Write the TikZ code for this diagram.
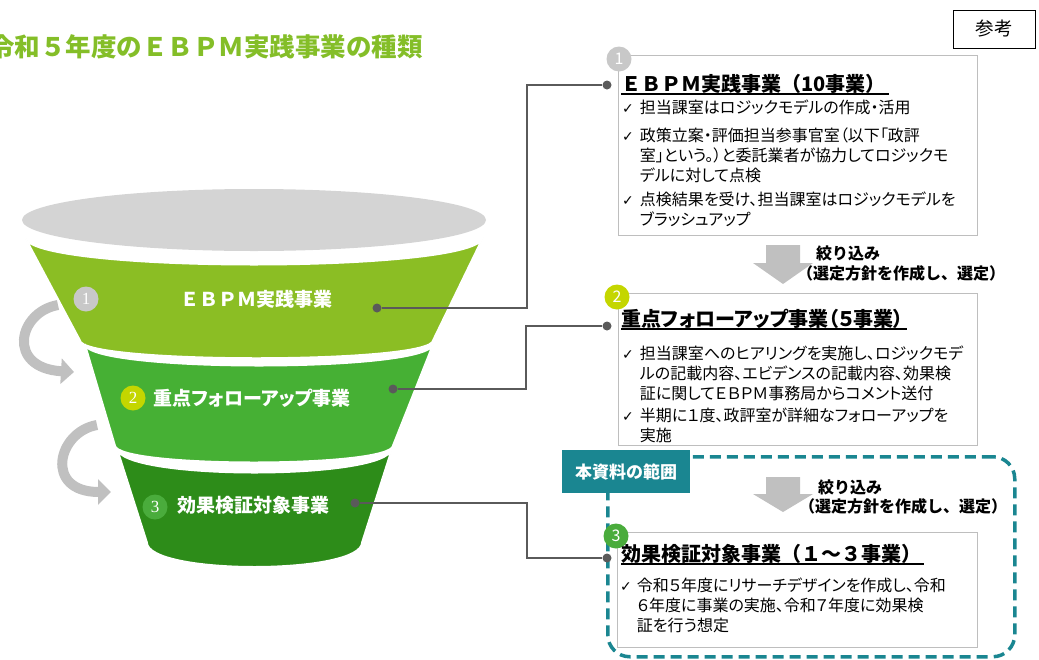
\documentclass[tikz,border=0pt]{standalone}
\usepackage{fontspec}
\setmainfont{Noto Sans CJK JP}
\newfontfamily\jpprop{Noto Sans CJK JP}[RawFeature=+palt]
\newfontfamily\chkfont{DejaVu Sans}
\newfontfamily\bandnumfont{Liberation Serif}
\usetikzlibrary{arrows.meta}

\definecolor{titlegreen}{RGB}{132,190,40}
\definecolor{bandA}{RGB}{139,190,36}
\definecolor{bandB}{RGB}{70,176,52}
\definecolor{bandC}{RGB}{45,140,25}
\definecolor{discgray}{RGB}{200,200,200}
\definecolor{discyellow}{RGB}{196,214,0}
\definecolor{discgreen}{RGB}{74,172,60}
\definecolor{rimgray}{RGB}{212,212,212}
\definecolor{linegray}{RGB}{90,90,90}
\definecolor{panelgray}{RGB}{190,190,190}
\definecolor{arrowgray}{RGB}{192,192,192}
\definecolor{rangeteal}{RGB}{26,134,145}

\newcommand{\chk}{{\chkfont\fontsize{14}{14}\selectfont ✓}}

\begin{document}
\begin{tikzpicture}[x=1pt, y=-1pt,
  band/.style={draw=white, line width=1.5pt},
  bandlabel/.style={text=white, inner sep=0, font=\bfseries\fontsize{19}{19}\selectfont},
  numdisc/.style={circle, minimum size=25pt, inner sep=0, text=white, font=\bandnumfont\fontsize{17}{17}\selectfont},
  boxdisc/.style={circle, minimum size=25pt, inner sep=0, text=white, font=\fontsize{16}{16}\selectfont},
  conn/.style={draw=linegray, line width=2.5pt},
  dot/.style={circle, fill=linegray, minimum size=9pt, inner sep=0},
  panel/.style={draw=panelgray, line width=1pt, anchor=north west, inner sep=0},
  paneltitle/.style={anchor=base west, inner sep=0, font=\bfseries\fontsize{20}{20}\selectfont},
  uline/.style={line width=1.2pt},
  itemlist/.style={anchor=north west, inner sep=0, font=\jpprop\fontsize{16}{20}\selectfont},
  narrow/.style={fill=arrowgray},
  narrowtext/.style={anchor=west, inner sep=0, font=\bfseries\fontsize{16}{16}\selectfont},
  turn/.style={draw=arrowgray, line width=10pt, -{Triangle[length=13pt, width=25pt]}},
  rangebox/.style={draw=rangeteal, line width=3.5pt, dash pattern=on 11pt off 6pt, rounded corners=22pt, anchor=north west, inner sep=0},
  rangetag/.style={fill=rangeteal, text=white, anchor=north west, inner sep=0, minimum width=128pt, minimum height=43pt, font=\bfseries\fontsize{17}{17}\selectfont},
]
\useasboundingbox (0,0) rectangle (1039,659);

% title and reference tag
\node[anchor=west, inner sep=0, text=titlegreen, font=\bfseries\fontsize{25.5}{25.5}\selectfont] (title) at (-11,47) {令和５年度のＥＢＰＭ実践事業の種類};
\node[draw, line width=1pt, minimum width=82pt, minimum height=38pt, font=\fontsize{18.5}{18.5}\selectfont] (reftag) at (994,29) {参考};

% turning arrows
\draw[turn] (58,305) .. controls (18,312) and (6,368) .. (74,372);
\draw[turn] (97,425) .. controls (57,432) and (44,492) .. (111,492);

% funnel
\fill[rimgray] (254,220) ellipse[x radius=232, y radius=31];
\path[band, fill=bandA] (25,237) .. controls (25,274) and (483,274) .. (483,237) -- (433,340) .. controls (433,364) and (80,364) .. (80,340) -- cycle;
\path[band, fill=bandB] (85,344) .. controls (85,373) and (433,373) .. (433,344) -- (393,445) .. controls (393,468) and (115,468) .. (115,445) -- cycle;
\path[band, fill=bandC] (117,448) .. controls (117,481) and (392,481) .. (392,448) -- (362,542) .. controls (362,575) and (147,575) .. (147,542) -- cycle;

\node[numdisc, fill=discgray] (n1) at (86,299) {1};
\node[bandlabel] (f1) at (256,299) {ＥＢＰＭ実践事業};
\node[numdisc, fill=discyellow] (n2) at (133,398) {2};
\node[bandlabel, font=\jpprop\bfseries\fontsize{19}{19}\selectfont] (f2) at (252,398) {重点フォローアップ事業};
\node[numdisc, fill=discgreen] (n3) at (155,507) {3};
\node[bandlabel] (f3) at (253,505) {効果検証対象事業};

% scope of this document
\node[rangebox, minimum width=407pt, minimum height=200pt] (range) at (606,455) {};
\node[rangetag] (tag) at (562,450) {本資料の範囲};

% panel 1
\node[panel, minimum width=359pt, minimum height=180pt] (box1) at (618,55) {};
\node[boxdisc, fill=discgray] (c1) at (619,59) {1};
\node[paneltitle] (t1) at (621,91) {ＥＢＰＭ実践事業（10事業）};
\draw[uline] ([yshift=-3pt]t1.base west) -- ([xshift=3pt, yshift=-3pt]t1.base east);
\node[itemlist] (l1) at (622,99) {\begin{tabular}{@{}l@{\hspace{6pt}}l@{}}
\chk & 担当課室はロジックモデルの作成・活用\\[8pt]
\chk & 政策立案・評価担当参事官室（以下「政評\\
 & 室」という。）と委託業者が協力してロジックモ\\
 & デルに対して点検\\[4pt]
\chk & 点検結果を受け、担当課室はロジックモデルを\\
 & ブラッシュアップ
\end{tabular}};

% panel 2
\node[panel, minimum width=359pt, minimum height=152pt] (box2) at (618,293) {};
\node[boxdisc, fill=discyellow] (c2) at (617,297) {2};
\node[paneltitle, font=\jpprop\bfseries\fontsize{20}{20}\selectfont] (t2) at (621,326) {重点フォローアップ事業（５事業）};
\draw[uline] ([yshift=-3pt]t2.base west) -- ([xshift=3pt, yshift=-3pt]t2.base east);
\node[itemlist] (l2) at (622,345) {\begin{tabular}{@{}l@{\hspace{6pt}}l@{}}
\chk & 担当課室へのヒアリングを実施し、ロジックモデ\\
 & ルの記載内容、エビデンスの記載内容、効果検\\
 & 証に関してＥＢＰＭ事務局からコメント送付\\[2pt]
\chk & 半期に１度、政評室が詳細なフォローアップを\\
 & 実施
\end{tabular}};

% panel 3
\node[panel, minimum width=360pt, minimum height=115pt] (box3) at (617,532) {};
\node[boxdisc, fill=discgreen] (c3) at (616,536) {3};
\node[paneltitle] (t3) at (621,561) {効果検証対象事業（１～３事業）};
\draw[uline] ([yshift=-3pt]t3.base west) -- ([xshift=3pt, yshift=-3pt]t3.base east);
\node[itemlist] (l3) at (620,577) {\begin{tabular}{@{}l@{\hspace{5pt}}l@{}}
\chk & 令和５年度にリサーチデザインを作成し、令和\\
 & ６年度に事業の実施、令和７年度に効果検\\
 & 証を行う想定
\end{tabular}};

% narrowing arrows
\foreach \t/\b/\p [count=\i] in {245/263/284, 477/494/512}
  \fill[narrow] (766,\t) -- (800,\t) -- (800,\b) -- (813,\b) -- (783,\p) -- (753,\b) -- (766,\b) -- cycle;
\node[narrowtext] (s1a) at (816,253) {絞り込み};
\node[narrowtext] (s1b) at (797,273) {（選定方針を作成し、選定）};
\node[narrowtext] (s2a) at (818,487) {絞り込み};
\node[narrowtext] (s2b) at (799,506) {（選定方針を作成し、選定）};

% connectors
\node[dot] (d1a) at (377,308) {};
\node[dot] (d1b) at (607,85) {};
\node[dot] (d2a) at (393,389) {};
\node[dot] (d2b) at (607,326) {};
\node[dot] (d3a) at (355,503) {};
\node[dot] (d3b) at (607,558) {};
\draw[conn] (d1a) -- ++(150,0) |- (d1b);
\draw[conn] (d2a) -- ++(133,0) |- (d2b);
\draw[conn] (d3a) -- ++(172,0) |- (d3b);
\end{tikzpicture}
\end{document}
